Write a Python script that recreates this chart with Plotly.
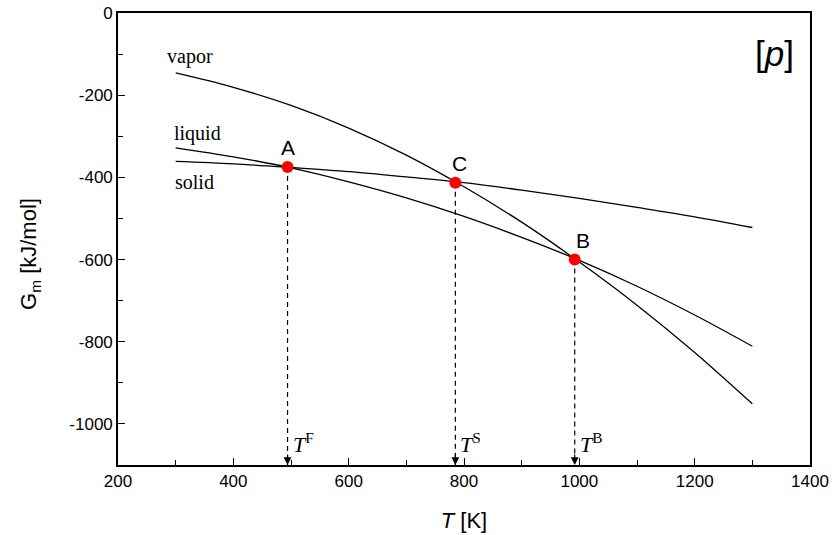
import plotly.graph_objects as go

# Temperatures (K)
T = [300, 400, 500, 600, 700, 800, 900, 1000, 1100, 1200, 1300]
# Molar Gibbs energies (kJ/mol)
G_vapor = [-146, -181, -225, -280, -346, -423, -509, -606, -711, -826, -951]
G_liquid = [-328, -350, -377, -411, -450, -495, -546, -602, -665, -735, -811]
G_solid = [-361, -367, -376, -386, -399, -413, -431, -451, -473, -496, -522]

# Transition points
pt_names = ["A", "C", "B"]
pt_T = [494, 785, 992]
pt_G = [-375, -413, -600]
pt_labels = ["<i>T</i><sup>F</sup>", "<i>T</i><sup>S</sup>", "<i>T</i><sup>B</sup>"]
pt_label_xshift = [0, 4, 8]

curve_names = ["vapor", "liquid", "solid"]
curve_label_T = [325, 337, 333]
curve_label_G = [-107, -293, -412]

# Tick labels
x_ticks = [200, 400, 600, 800, 1000, 1200, 1400]
x_ticktext = ["200", "400", "600", "800", "1000", "1200", "1400"]
y_ticks = [0, -200, -400, -600, -800, -1000]
y_ticktext = ["0", "-200", "-400", "-600", "-800", "-1000"]

Y_MIN, Y_MAX = -1100, 0
X_MIN, X_MAX = 200, 1400

fig = go.Figure()
line_style = dict(color="black", width=1.3)
for G in (G_vapor, G_liquid, G_solid):
    fig.add_trace(go.Scatter(x=T, y=G, mode="lines", line=line_style,
                             line_shape="spline", showlegend=False, hoverinfo="skip"))

# dashed drop lines
for t, g in zip(pt_T, pt_G):
    fig.add_trace(go.Scatter(x=[t, t], y=[g, Y_MIN], mode="lines",
                             line=dict(color="black", width=1.2, dash="5px,4px"),
                             showlegend=False, hoverinfo="skip"))

fig.add_trace(go.Scatter(x=pt_T, y=pt_G, mode="markers",
                         marker=dict(color="#ff0000", size=12, line=dict(width=0)),
                         showlegend=False, hoverinfo="skip"))

annotations = []
for name, t, g, xs in zip(pt_names, pt_T, pt_G, pt_label_xshift):
    annotations.append(dict(x=t, y=g, text=name, showarrow=False, xanchor="center",
                            yanchor="bottom", yshift=6, xshift=xs,
                            font=dict(family="Liberation Sans, Arial", size=21, color="black")))
for lab, t in zip(pt_labels, pt_T):
    # arrow head at the axis
    annotations.append(dict(x=t, y=Y_MIN, ax=0, ay=-12, showarrow=True, text="",
                            arrowhead=2, arrowsize=1.3, arrowwidth=1.2, arrowcolor="black",
                            standoff=0, startstandoff=0))
    annotations.append(dict(x=t, y=Y_MIN, text=lab, showarrow=False, xanchor="left",
                            yanchor="bottom", xshift=3, yshift=6,
                            font=dict(family="Liberation Serif, Times New Roman", size=22, color="black")))
for name, t, g in zip(curve_names, curve_label_T, curve_label_G):
    annotations.append(dict(x=t, y=g, text=name, showarrow=False, xanchor="center",
                            yanchor="middle",
                            font=dict(family="Liberation Serif, Times New Roman", size=20, color="black")))
annotations.append(dict(x=0.948, y=0.91, xref="paper", yref="paper", text="[<i>p</i>]",
                        showarrow=False, xanchor="center", yanchor="middle",
                        font=dict(family="Liberation Sans, Arial", size=35, color="black")))
# y-axis title
annotations.append(dict(x=0, y=0.467, xref="paper", yref="paper", xshift=-88,
                        text="G<sub>m</sub> [kJ/mol]", textangle=-90, showarrow=False,
                        xanchor="center", yanchor="middle",
                        font=dict(family="Liberation Sans, Arial", size=22, color="black")))

axis_common = dict(showline=True, linecolor="black", linewidth=1.6, mirror=True,
                   ticks="inside", ticklen=7, tickwidth=1.4, tickcolor="black",
                   showgrid=False, zeroline=False, automargin=False,
                   tickfont=dict(family="Liberation Sans, Arial", size=17, color="black"))

fig.update_layout(
    width=832, height=535,
    margin=dict(l=118, r=22, t=13, b=70),
    paper_bgcolor="white", plot_bgcolor="white",
    xaxis=dict(range=[X_MIN, X_MAX], tickvals=x_ticks, ticktext=x_ticktext,
               minor=dict(dtick=100, tick0=200, ticks="inside", ticklen=5, tickwidth=1.2, tickcolor="black"),
               title=dict(text="<i>T</i> [K]", standoff=22,
                          font=dict(family="Liberation Sans, Arial", size=22, color="black")),
               **axis_common),
    yaxis=dict(range=[Y_MIN, Y_MAX], tickvals=y_ticks, ticktext=y_ticktext,
               minor=dict(dtick=100, tick0=0, ticks="inside", ticklen=5, tickwidth=1.2, tickcolor="black"),
               **axis_common),
    annotations=annotations,
)

fig.write_html("out.html", config={"displayModeBar": False},
               post_script="document.body.style.margin='0';document.body.style.overflow='hidden';")
